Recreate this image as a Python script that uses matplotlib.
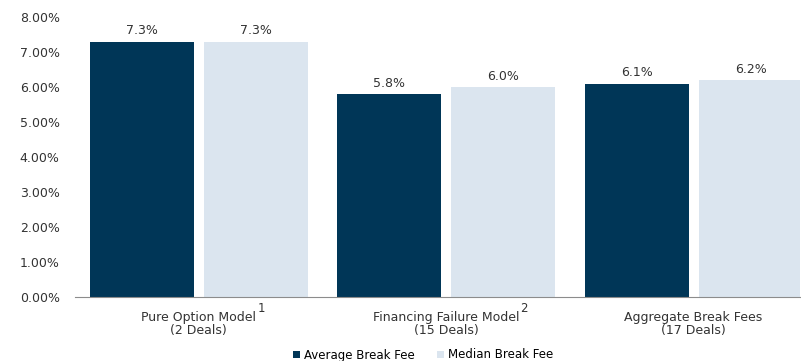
import matplotlib
matplotlib.use("Agg")
import matplotlib.pyplot as plt
import numpy as np

plt.rcParams["font.family"] = ["DejaVu Sans"]

categories = ["Pure Option Model\n(2 Deals)",
              "Financing Failure Model\n(15 Deals)",
              "Aggregate Break Fees\n(17 Deals)"]
footnotes = ["1", "2", ""]
average_fee = [7.3, 5.8, 6.1]
median_fee = [7.3, 6.0, 6.2]

C_AVG = "#003657"
C_MED = "#dbe5ef"
TXT = "#333333"
FS = 9

fig = plt.figure(figsize=(8.01, 3.61), dpi=100)
ax = fig.add_axes([75 / 801, 64 / 361, 725 / 801, 280 / 361])

x = np.arange(len(categories))
w = 0.42
ax.bar(x - 0.23, average_fee, w, color=C_AVG, label="Average Break Fee")
ax.bar(x + 0.23, median_fee, w, color=C_MED, label="Median Break Fee")

for xi, v in zip(x, average_fee):
    ax.text(xi - 0.23, v + 0.12, f"{v:.1f}%", ha="center", va="bottom",
            fontsize=FS, color=TXT)
for xi, v in zip(x, median_fee):
    ax.text(xi + 0.23, v + 0.12, f"{v:.1f}%", ha="center", va="bottom",
            fontsize=FS, color=TXT)

ax.set_xlim(-0.5, 2.43)
ax.set_ylim(0, 8)
ax.set_yticks(np.arange(0, 9, 1))
ax.yaxis.set_major_formatter(lambda v, _: f"{v:.2f}%")
ax.set_xticks(x)
ax.set_xticklabels(categories, fontsize=FS, color=TXT, linespacing=1.0)
ax.tick_params(axis="y", labelsize=FS, labelcolor=TXT, length=0, pad=11)
ax.tick_params(axis="x", length=0, pad=10)

for s in ("top", "right", "left"):
    ax.spines[s].set_visible(False)
ax.spines["bottom"].set_color("#8c8c8c")

# superscript footnote markers next to the first line of each label
fig.canvas.draw()
renderer = fig.canvas.get_renderer()
for lbl, note in zip(ax.get_xticklabels(), footnotes):
    if not note:
        continue
    first = lbl.get_text().split("\n")[0]
    t = fig.text(0, 0, first, fontsize=FS)
    wpx = t.get_window_extent(renderer).width
    t.remove()
    bb = lbl.get_window_extent(renderer)
    cx = (bb.x0 + bb.x1) / 2
    fig.text((cx + wpx / 2 + 1) / fig.bbox.width, (bb.y1 - 4) / fig.bbox.height,
             note, fontsize=8.5, color=TXT, ha="left", va="bottom")

fig.legend(*ax.get_legend_handles_labels(), loc="center",
           bbox_to_anchor=(423 / 801, 1 - 355 / 361), ncol=2,
           frameon=False, fontsize=8.5, handlelength=0.6, handleheight=0.6,
           columnspacing=1.9, handletextpad=0.3)

fig.savefig("out.png", dpi=100)
